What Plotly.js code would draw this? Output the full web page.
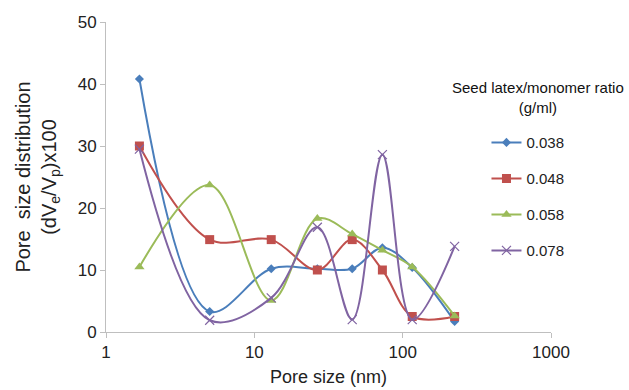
<!DOCTYPE html>
<html>
<head>
<meta charset="utf-8">
<script src="https://cdn.plot.ly/plotly-3.0.1.min.js"></script>
<style>html,body{margin:0;padding:0;background:#fff;}#chart{width:629px;height:390px;}</style>
</head>
<body>
<div id="chart"></div>
<script>
// Pore size (nm)
const poreSize = [1.68, 5.0, 13.0, 26.6, 45.7, 73, 116, 224];
// Series labels (seed latex / monomer ratio, g/ml)
const seriesNames = ["0.038", "0.048", "0.058", "0.078"];
// Pore size distribution (dVe/Vp)x100
const s038 = [40.8, 3.3, 10.2, 10.2, 10.2, 13.6, 10.4, 1.7];
const s048 = [30.0, 14.9, 14.9, 10.0, 14.9, 10.0, 2.5, 2.5];
const s058 = [10.5, 23.7, 5.1, 18.3, 15.8, 13.2, 10.5, 2.6];
const s078 = [29.5, 1.9, 5.5, 16.9, 2.0, 28.6, 2.0, 13.8];
const xTickVals = [1, 10, 100, 1000];
const xTickText = ["1", "10", "100", "1000"];
const yTickVals = [0, 10, 20, 30, 40, 50];

const colors = ["#4a7ebb", "#c0504d", "#9bbb59", "#8064a2"];
const symbols = ["diamond", "square", "triangle-up", "x-thin"];
const sizes = [7, 9, 9, 9];
const allSeries = [s038, s048, s058, s078];

const traces = allSeries.map((ys, i) => ({
  x: poreSize,
  y: ys,
  name: seriesNames[i],
  legendgroup: "g" + i,
  type: "scatter",
  mode: "lines+markers",
  line: {color: colors[i], width: 2, shape: "spline", smoothing: 1},
  marker: {symbol: symbols[i], size: sizes[i], color: colors[i],
           line: {color: colors[i], width: i === 3 ? 1.2 : 0}}
}));

const layout = {
  width: 629, height: 390,
  margin: {l: 106, r: 78, t: 22, b: 58},
  paper_bgcolor: "#fff", plot_bgcolor: "#fff",
  font: {family: "Liberation Sans, Arial, sans-serif", color: "#222"},
  showlegend: true,
  legend: {
    x: 0.855, xanchor: "left", y: 0.664, yanchor: "top",
    font: {size: 15, color: "#222"},
    tracegroupgap: 13.5,
    bgcolor: "rgba(0,0,0,0)"
  },
  annotations: [{
    text: "Seed latex/monomer ratio<br>(g/ml)",
    xref: "paper", yref: "paper", x: 0.971, y: 0.756,
    xanchor: "center", yanchor: "middle", showarrow: false,
    font: {size: 15, color: "#111"}
  }],
  xaxis: {
    type: "log", range: [0, 3],
    tickvals: xTickVals, ticktext: xTickText,
    ticks: "outside", ticklen: 5, tickcolor: "#bfbfbf",
    showline: true, linecolor: "#bfbfbf", linewidth: 1,
    showgrid: false, zeroline: false,
    tickfont: {size: 17, color: "#222"},
    title: {text: "Pore size (nm)", font: {size: 18, color: "#222"}, standoff: 8}
  },
  yaxis: {
    range: [0, 50], tickvals: yTickVals,
    ticks: "outside", ticklen: 5, tickcolor: "#bfbfbf",
    showline: true, linecolor: "#bfbfbf", linewidth: 1,
    showgrid: false, zeroline: false,
    tickfont: {size: 17, color: "#222"},
    title: {text: "Pore  size distribution<br>(dV<sub>e</sub>/V<sub>p</sub>)x100", font: {size: 20, color: "#222"}, standoff: 15}
  }
};

Plotly.newPlot("chart", traces, layout, {displayModeBar: false, staticPlot: true});
</script>
</body>
</html>
